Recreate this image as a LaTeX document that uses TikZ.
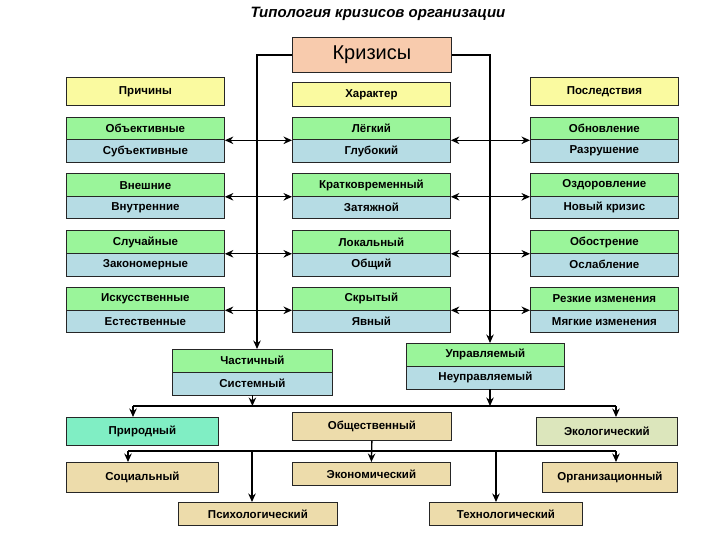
\documentclass[tikz,border=0pt]{standalone}
\usepackage{fontspec}
\setmainfont{Liberation Sans}
\usetikzlibrary{arrows.meta}
\definecolor{krzC}{HTML}{F8CBAD}
\definecolor{yelC}{HTML}{FAFAA0}
\definecolor{grnC}{HTML}{9AF59A}
\definecolor{bluC}{HTML}{B6DCE4}
\definecolor{aquaC}{HTML}{80EEC4}
\definecolor{beigeC}{HTML}{EDDCAB}
\definecolor{ecoC}{HTML}{DCE6BC}
\tikzset{
  box/.style={draw=black!85, line width=0.8pt, anchor=north west, inner sep=0pt,
    font=\fontsize{11.5}{13}\selectfont\bfseries},
  gbox/.style={box, fill=grnC, minimum width=158pt, minimum height=22.5pt},
  bbox/.style={box, fill=bluC, minimum width=158pt, minimum height=22.5pt},
  rgbox/.style={box, fill=grnC, minimum width=148pt, minimum height=22.5pt},
  rbbox/.style={box, fill=bluC, minimum width=148pt, minimum height=22.5pt},
  arr/.style={draw=black, line width=1.3pt, -{Stealth[length=8.5pt,width=7.5pt]}},
  ln/.style={draw=black, line width=1.3pt},
}
\begin{document}
\begin{tikzpicture}[x=1pt,y=-1pt]
\useasboundingbox[fill=white] (0,0) rectangle (720,540);
\node[font=\fontsize{15}{17}\selectfont\bfseries\itshape] (title) at (378,14) {Типология кризисов организации};
\node[box, fill=krzC, minimum width=159pt, minimum height=35pt, font=\fontsize{20}{22}\selectfont] (krz) at (292,37) {Кризисы};
\node[box, fill=yelC, minimum width=158pt, minimum height=28pt] (pri) at (66,77) {Причины};
\node[box, fill=yelC, minimum width=158pt, minimum height=24pt] (har) at (292,82) {Характер};
\node[box, fill=yelC, minimum width=148pt, minimum height=28pt] (pos) at (530,77) {Последствия};
% row 1
\node[gbox] (lg1) at (66,117) {Объективные};
\node[bbox] (lb1) at (66,139.5) {Субъективные};
\node[gbox] (mg1) at (292,117) {Лёгкий};
\node[bbox] (mb1) at (292,139.5) {Глубокий};
\node[rgbox] (rg1) at (530,117) {Обновление};
\node[rbbox] (rb1) at (530,139.5) {Разрушение};
% row 2
\node[gbox] (lg2) at (66,173.5) {Внешние};
\node[bbox] (lb2) at (66,196) {Внутренние};
\node[gbox] (mg2) at (292,173.5) {Кратковременный};
\node[bbox] (mb2) at (292,196) {Затяжной};
\node[rgbox] (rg2) at (530,173.5) {Оздоровление};
\node[rbbox] (rb2) at (530,196) {Новый кризис};
% row 3
\node[gbox] (lg3) at (66,230.5) {Случайные};
\node[bbox] (lb3) at (66,253) {Закономерные};
\node[gbox] (mg3) at (292,230.5) {Локальный};
\node[bbox] (mb3) at (292,253) {Общий};
\node[rgbox] (rg3) at (530,230.5) {Обострение};
\node[rbbox] (rb3) at (530,253) {Ослабление};
% row 4
\node[gbox] (lg4) at (66,287) {Искусственные};
\node[bbox] (lb4) at (66,309.5) {Естественные};
\node[gbox] (mg4) at (292,287) {Скрытый};
\node[bbox] (mb4) at (292,309.5) {Явный};
\node[rgbox] (rg4) at (530,287) {Резкие изменения};
\node[rbbox] (rb4) at (530,309.5) {Мягкие изменения};
% middle lower
\node[gbox, minimum width=160pt] (cha) at (172,349) {Частичный};
\node[bbox, minimum width=160pt] (sys) at (172,372) {Системный};
\node[gbox] (upr) at (406,343) {Управляемый};
\node[bbox] (nup) at (406,366) {Неуправляемый};
% bottom
\node[box, fill=aquaC, minimum width=152pt, minimum height=28pt] (prir) at (66,417) {Природный};
\node[box, fill=beigeC, minimum width=159pt, minimum height=28pt] (obsh) at (292,412) {Общественный};
\node[box, fill=ecoC, minimum width=141pt, minimum height=28pt] (eco) at (536,417) {Экологический};
\node[box, fill=beigeC, minimum width=152pt, minimum height=30pt] (soc) at (66,462) {Социальный};
\node[box, fill=beigeC, minimum width=158pt, minimum height=23pt] (econ) at (292,462) {Экономический};
\node[box, fill=beigeC, minimum width=135pt, minimum height=30pt] (org) at (542,462) {Организационный};
\node[box, fill=beigeC, minimum width=159pt, minimum height=23pt] (psy) at (178,502) {Психологический};
\node[box, fill=beigeC, minimum width=153pt, minimum height=23pt] (tech) at (429,502) {Технологический};
% coordinates
\coordinate (Lx) at (257,0);
\coordinate (Rx) at (490,0);
\coordinate (h1a) at (133,406);
\coordinate (h1b) at (616,406);
\coordinate (h2a) at (128,451);
\coordinate (h2b) at (616,451);
\coordinate (h2p) at (252,451);
\coordinate (h2t) at (496,451);
% main verticals
\draw[arr] (krz.west) -| (Lx |- cha.north);
\draw[arr] (krz.east) -| (Rx |- upr.north);
\foreach \i in {1,2,3,4}{
  \draw[arr] (Lx |- lg\i.south) -- (lg\i.south east);
  \draw[arr] (Lx |- mg\i.south) -- (mg\i.south west);
  \draw[arr] (Rx |- mg\i.south) -- (mg\i.south east);
  \draw[arr] (Rx |- rg\i.south) -- (rg\i.south west);
}
% lower connectors
\draw[arr] (sys.south) -- (sys.south |- h1a);
\draw[arr] (Rx |- nup.south) -- (Rx |- h1a);
\draw[ln] (h1a) -- (h1b);
\draw[arr] (h1a) -- (h1a |- prir.north);
\draw[arr] (h1b) -- (h1b |- eco.north);
\draw[ln] (h2a) -- (h2b);
\draw[arr] (obsh.south) -- (econ.north);
\draw[arr] (h2a) -- (h2a |- soc.north);
\draw[arr] (h2b) -- (h2b |- org.north);
\draw[arr, line width=2pt] (h2p) -- (h2p |- psy.north);
\draw[arr, line width=2pt] (h2t) -- (h2t |- tech.north);
\end{tikzpicture}
\end{document}
